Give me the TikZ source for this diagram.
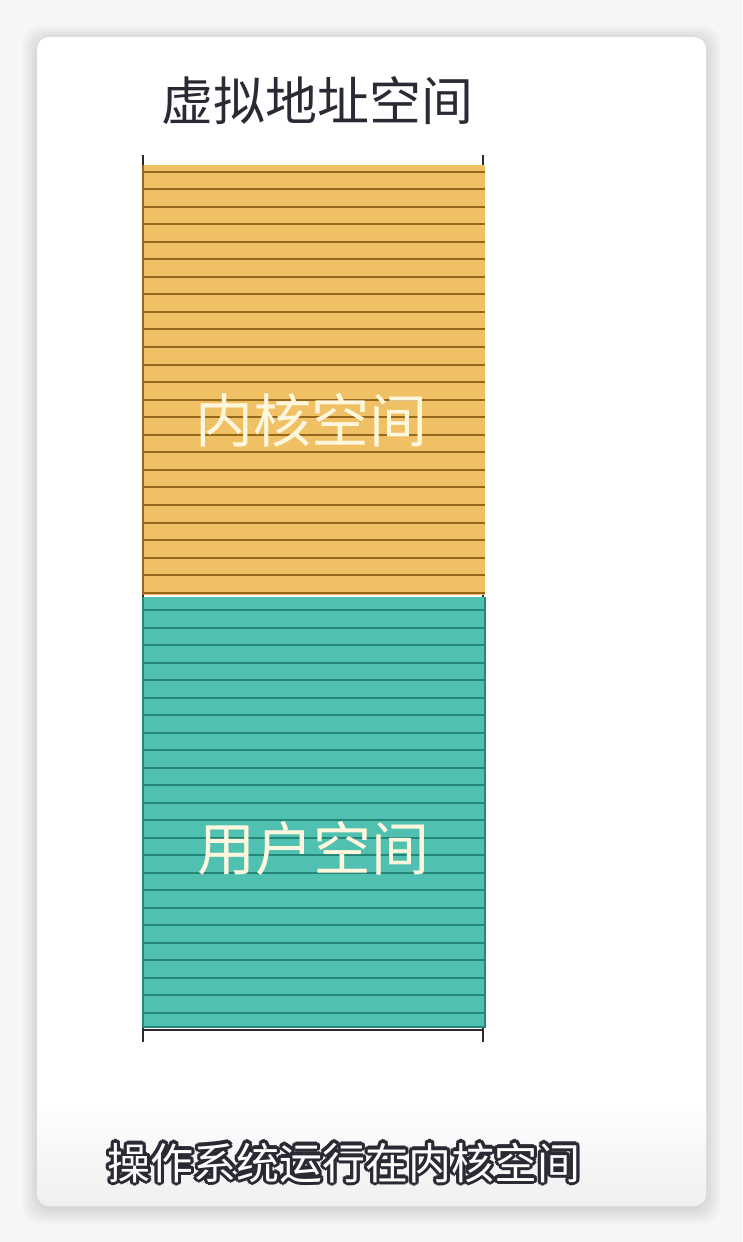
\documentclass[tikz,border=0pt]{standalone}
\usepackage{fontspec}
\newfontfamily\cjk{Noto Sans CJK SC}
\usetikzlibrary{calc}
\definecolor{KernelFill}{RGB}{240,193,100}
\definecolor{KernelLine}{RGB}{150,104,30}
\definecolor{UserFill}{RGB}{80,192,176}
\definecolor{UserLine}{RGB}{36,134,118}
\definecolor{InkDark}{RGB}{42,42,52}
\definecolor{PageGray}{RGB}{246,246,246}
\definecolor{LabelWhite}{RGB}{255,246,222}

\begin{document}
\begin{tikzpicture}[x=1pt,y=-1pt,
  card/.style={fill=white, rounded corners=12pt},
  heading/.style={font=\cjk\fontsize{52}{52}\selectfont, text=InkDark, inner sep=0pt, anchor=base},
  region/.style={font=\cjk\fontsize{58}{58}\selectfont, text=LabelWhite, inner sep=0pt, anchor=base},
  caption/.style={font=\cjk\fontsize{43}{43}\selectfont, inner sep=0pt, anchor=base},
  stripe/.style={line width=2pt},
  axis/.style={line width=1.4pt, draw=InkDark}
]
% page and card
\useasboundingbox[fill=PageGray] (0,0) rectangle (742,1242);
\foreach \s in {14,11,8,5,2}
  \fill[black, opacity=0.025, rounded corners=18pt] (37-\s,37-\s+3) rectangle (706+\s,1206+\s+3);
\fill[card] (37,37) rectangle (706,1206);
\shade[top color=white, bottom color=black!6, rounded corners=12pt] (37,1100) rectangle (706,1206);
\fill[white] (37,1100) rectangle (706,1110);

% axis marks
\draw[axis] (143,155) -- (143,1042);
\draw[axis] (483,155) -- (483,1042);
\draw[axis] (143,1030) -- (483,1030);

% kernel space block
\fill[KernelFill] (143,165) rectangle (485,595);
\foreach \k in {0,...,24}
  \draw[stripe, KernelLine] (143,171.5+17.55*\k) -- (485,171.5+17.55*\k);
\draw[stripe, KernelLine] (143,165) -- (143,595);

% user space block
\fill[UserFill] (143,597) rectangle (485,1027);
\foreach \k in {0,...,23}
  \draw[stripe, UserLine] (143,610+17.5*\k) -- (485,610+17.5*\k);
\draw[stripe, UserLine] (143,597) -- (143,1027) -- (485,1027) -- (485,597);

% labels
\node[heading] (title) at (317,120) {虚拟地址空间};
\node[region] (kernel) at (311,442) {内核空间};
\node[region] (user) at (313,870) {用户空间};

% caption with dark halo
\foreach \a in {0,30,...,330}
  \node[caption, text=InkDark] at ($(344,1179)+(\a:3.2)$) {操作系统运行在内核空间};
\node[caption, text=white] (note) at (344,1179) {操作系统运行在内核空间};
\end{tikzpicture}
\end{document}
